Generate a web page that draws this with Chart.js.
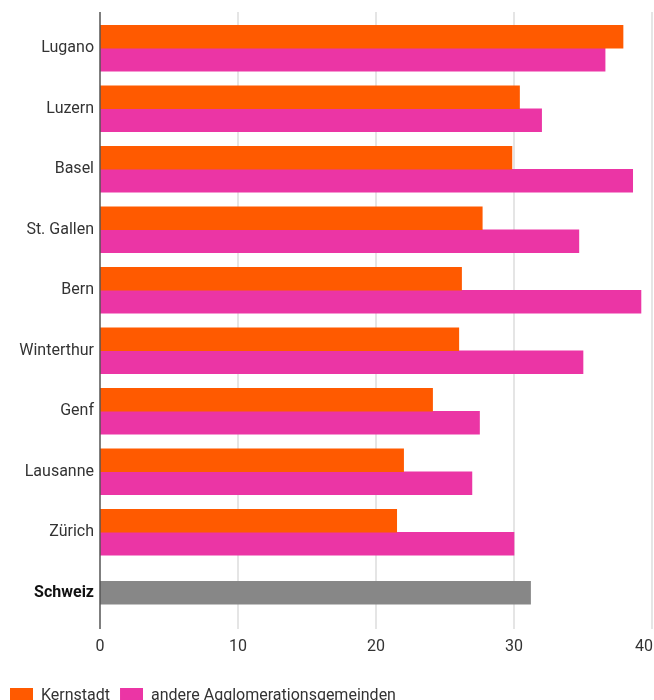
<!DOCTYPE html>
<html>
<head>
<meta charset="utf-8">
<style>
  html, body { margin: 0; padding: 0; background: #fff; overflow: hidden; }
  .wrap { width: 654px; height: 714px; position: relative; }
</style>
</head>
<body>
<div class="wrap">
  <canvas id="myChart"></canvas>
</div>
<script src="https://cdn.jsdelivr.net/npm/chart.js"></script>
<script>
  const categories = ["Lugano", "Luzern", "Basel", "St. Gallen", "Bern", "Winterthur", "Genf", "Lausanne", "Zürich", "Schweiz"];
  const kernstadt = [37.9, 30.4, 29.85, 27.7, 26.2, 26.0, 24.1, 22.0, 21.5, null];
  const andere = [36.6, 32.0, 38.6, 34.7, 39.2, 35.0, 27.5, 26.95, 30.0, null];
  const schweiz = [null, null, null, null, null, null, null, null, null, 31.2];
  const xTicks = [0, 10, 20, 30, 40];

  Chart.defaults.font.family = "Roboto, sans-serif";
  Chart.defaults.font.size = 16;
  Chart.defaults.color = "#333";

  // grid lines and axis line run a few px past the bar bands, like the original
  const axisLines = {
    id: "axisLines",
    beforeDatasetsDraw(chart) {
      const { ctx, chartArea } = chart;
      const x = chart.scales.x;
      ctx.save();
      ctx.strokeStyle = "#dcdcdc";
      ctx.lineWidth = 1.5;
      xTicks.forEach((v) => {
        if (v === 0) return;
        const px = x.getPixelForValue(v);
        ctx.beginPath();
        ctx.moveTo(px, chartArea.top - 6);
        ctx.lineTo(px, chartArea.bottom + 6);
        ctx.stroke();
      });
      ctx.restore();
    },
    afterDatasetsDraw(chart) {
      const { ctx, chartArea } = chart;
      const px = chart.scales.x.getPixelForValue(0);
      ctx.save();
      ctx.strokeStyle = "#555";
      ctx.lineWidth = 1.5;
      ctx.beginPath();
      ctx.moveTo(px, chartArea.top - 6);
      ctx.lineTo(px, chartArea.bottom + 6);
      ctx.stroke();
      ctx.restore();
    },
    beforeDraw(chart) {
      // last tick label is right-aligned so it stays inside the canvas
      const x = chart.scales.x;
      const items = x.getLabelItems();
      const last = items[items.length - 1];
      if (last && last.options) {
        last.options.textAlign = "right";
        if (last.options.translation) last.options.translation[0] = x.right + 1;
      }
    },
  };

  const ctx = document.getElementById("myChart");
  new Chart(ctx, {
    type: "bar",
    data: {
      labels: categories,
      datasets: [
        { label: "Kernstadt", data: kernstadt, backgroundColor: "#ff5a00" },
        { label: "andere Agglomerationsgemeinden", data: andere, backgroundColor: "#eb35a5" },
        { label: "Schweiz", data: schweiz, backgroundColor: "#878787" },
      ],
    },
    options: {
      indexAxis: "y",
      responsive: true,
      maintainAspectRatio: false,
      animation: false,
      skipNull: true,
      barThickness: 23,
      layout: { padding: { top: 18, right: 2, left: 0, bottom: 0 } },
      scales: {
        x: {
          min: 0,
          max: 40,
          afterBuildTicks: (scale) => {
            scale.ticks = xTicks.map((v) => ({ value: v }));
          },
          afterFit: (scale) => {
            scale.height = 55;
            scale.paddingRight = 0;
            scale.paddingLeft = 0;
          },
          grid: { display: false, drawTicks: false },
          border: { display: false },
          ticks: { padding: 14, color: "#333", font: { size: 16 } },
        },
        y: {
          afterFit: (scale) => {
            scale.width = 100;
          },
          grid: { display: false, drawTicks: false },
          border: { display: false },
          ticks: {
            padding: 6,
            color: (c) => (c.index === 9 ? "#111" : "#333"),
            font: (c) => (c.index === 9 ? { size: 16, weight: "bold" } : { size: 16 }),
          },
        },
      },
      plugins: {
        tooltip: { enabled: false },
        legend: {
          position: "bottom",
          align: "start",
          labels: {
            boxWidth: 23,
            boxHeight: 16,
            padding: 10,
            color: "#333",
            font: { size: 16 },
            filter: (item) => item.datasetIndex < 2,
          },
        },
      },
    },
    plugins: [axisLines],
  });
</script>
</body>
</html>
